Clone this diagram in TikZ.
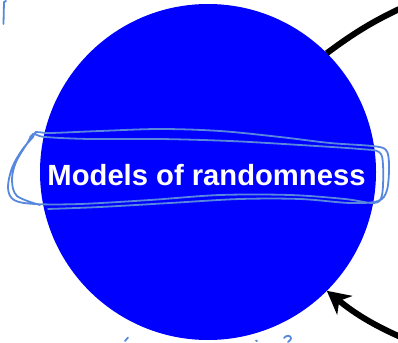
\documentclass[tikz,border=0pt]{standalone}
\usepackage{fontspec}
\newfontfamily\hfont{Liberation Sans}
\usetikzlibrary{arrows.meta}
\definecolor{ink}{RGB}{88,136,222}
\tikzset{
  bigcircle/.style={circle, fill={rgb,255:red,0;green,0;blue,255}, minimum size=336pt, inner sep=0pt, outer sep=0pt},
  title/.style={text=white, font=\hfont\bfseries\fontsize{29.2}{32}\selectfont, anchor=base, inner sep=0pt},
  thickarrow/.style={line width=6pt, black},
  scribble/.style={ink, line width=1.8pt, line cap=round, line join=round}
}
\begin{document}
\begin{tikzpicture}[x=1pt,y=-1pt]
\clip (0,0) rectangle (398,342);
\fill[white] (0,0) rectangle (398,342);
\node[bigcircle] (c) at (208,172) {};
\node[title] (t) at (206.5,185) {Models of randomness};
\coordinate (ext1) at (410,4);
\coordinate (ext2) at (412,342);
\draw[thickarrow] (c.45) to[bend left=6] (ext1);
\draw[thickarrow, -{Stealth[length=23pt,width=24pt,inset=7pt]}] (ext2) to[bend left=8] (c.-45);
% hand-drawn loop round the title
\draw[scribble] plot[smooth, tension=0.55] coordinates {
 (48,209) (100,207) (170,203) (240,199) (300,199) (350,203) (378,201)
 (387,190) (389,165) (386,150) (372,146) (330,143) (280,137) (220,131)
 (160,129) (100,131) (50,133) (36,132) (33,137) (22,150) (12,168) (8,188)
 (14,200) (35,204) (80,204) (150,200) (220,195) (290,195) (345,199) (374,203)
 (382,195) (383,165) (379,152) (360,149) (300,145) (230,141) (160,139)
 (90,139) (45,137) (33,134) (28,142) (16,162) (12,180) (17,196) (40,205)};
% small marks at the edges
\draw[scribble] (6,1) -- (4,2) -- (3.5,24);
\draw[scribble] (125,341) -- (128,337.5);
\draw[scribble] (256,340.5) -- (257,341);
\draw[scribble] (284,338) .. controls (286,335) and (291,335) .. (291,338.5) .. controls (291,340) and (289,341) .. (288,342);
\end{tikzpicture}
\end{document}
